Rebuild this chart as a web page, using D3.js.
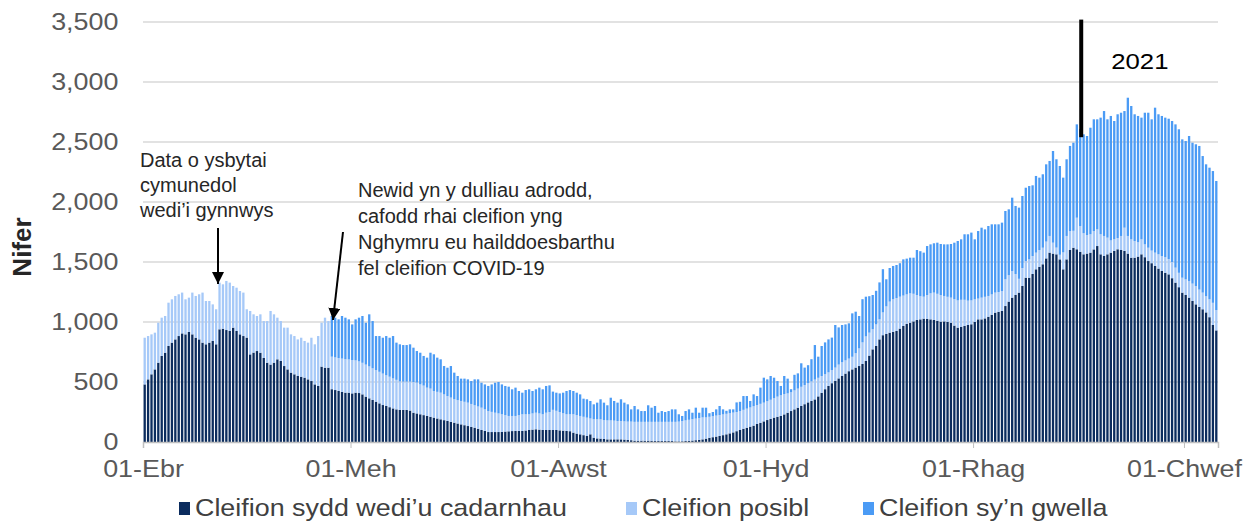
<!DOCTYPE html>
<html lang="cy">
<head>
<meta charset="utf-8">
<title>Cleifion COVID-19</title>
<script src="https://cdn.jsdelivr.net/npm/d3@7"></script>
<style>
  body { margin: 0; background: #fff; overflow: hidden; }
  text { font-family: "Liberation Sans", Arial, sans-serif; }
  .tick text { font-size: 24px; fill: #595959; }
  .grid line { stroke: #d9d9d9; stroke-width: 1.5; }
  .axis-label { font-size: 26px; font-weight: bold; fill: #262626; }
  .legend text { font-size: 24px; fill: #404040; }
  .note { font-size: 20px; fill: #262626; }
</style>
</head>
<body>
<script>
// daily values from 01-Ebr 2020
const startDate = new Date(2020, 3, 1);

const confirmed = [
  480, 522, 564, 605, 661, 717, 744, 800, 828, 855,
  883, 905, 897, 917, 897, 869, 855, 828, 814, 828,
  842, 814, 939, 944, 933, 925, 953, 925, 897, 883,
  870, 730, 745, 758, 744, 700, 661, 645, 661, 689,
  675, 633, 605, 578, 564, 550, 544, 536, 522, 508,
  480, 467, 628, 619, 619, 440, 433, 425, 418, 411,
  411, 405, 411, 408, 397, 378, 364, 350, 336, 322,
  308, 300, 290, 280, 272, 267, 267, 267, 262, 244,
  238, 231, 224, 217, 210, 203, 196, 189, 182, 175,
  168, 161, 154, 147, 140, 133, 126, 119, 110, 100,
  92, 83, 83, 83, 83, 84, 87, 89, 91, 92,
  92, 92, 96, 100, 103, 106, 103, 100, 100, 100,
  100, 100, 97, 95, 92, 90, 78, 70, 64, 57,
  50, 64, 36, 30, 28, 25, 22, 22, 22, 22,
  22, 20, 17, 15, 11, 11, 11, 11, 11, 10,
  8, 8, 8, 8, 8, 8, 5, 5, 6, 8,
  10, 12, 15, 18, 22, 28, 35, 40, 45, 50,
  57, 64, 72, 80, 90, 100, 110, 119, 128, 136,
  150, 160, 172, 183, 193, 203, 210, 217, 230, 244,
  258, 272, 286, 300, 315, 330, 342, 355, 380, 410,
  440, 467, 490, 510, 530, 550, 570, 590, 605, 620,
  633, 650, 675, 720, 772, 800, 855, 890, 900, 911,
  918, 925, 945, 967, 985, 994, 1005, 1017, 1022, 1028,
  1025, 1022, 1017, 1010, 1003, 1005, 1000, 994, 970, 953,
  960, 967, 975, 981, 1000, 1022, 1022, 1030, 1044, 1060,
  1078, 1085, 1092, 1133, 1170, 1203, 1225, 1245, 1300, 1369,
  1369, 1400, 1439, 1460, 1481, 1530, 1578, 1570, 1564, 1522,
  1439, 1522, 1600, 1619, 1606, 1585, 1564, 1570, 1578, 1605,
  1633, 1564, 1550, 1564, 1578, 1592, 1606, 1600, 1592, 1570,
  1536, 1536, 1545, 1564, 1540, 1508, 1490, 1467, 1445, 1425,
  1410, 1397, 1365, 1328, 1290, 1245, 1225, 1203, 1175, 1147,
  1125, 1106, 1080, 1040, 975, 930
];

// confirmed + possible
const possibleTop = [
  869, 883, 897, 911, 994, 1036, 1050, 1161, 1189, 1217,
  1231, 1245, 1189, 1203, 1245, 1217, 1231, 1245, 1175, 1175,
  1147, 1106, 1328, 1314, 1342, 1328, 1300, 1286, 1258, 1245,
  1106, 1092, 1064, 1050, 1064, 1008, 1008, 1092, 1064, 1036,
  1008, 953, 953, 897, 883, 855, 869, 842, 828, 869,
  814, 883, 994, 1036, 1008, 711, 705, 700, 695, 690,
  688, 683, 680, 672, 660, 645, 630, 614, 600, 585,
  570, 556, 544, 530, 518, 505, 503, 503, 503, 500,
  495, 480, 470, 453, 445, 425, 418, 411, 397, 383,
  370, 356, 349, 342, 335, 328, 317, 306, 296, 286,
  272, 258, 251, 244, 238, 231, 224, 217, 217, 217,
  224, 231, 231, 231, 238, 244, 238, 231, 244, 250,
  268, 260, 250, 240, 231, 231, 231, 224, 217, 210,
  203, 196, 189, 189, 189, 182, 180, 180, 178, 175,
  175, 172, 170, 170, 168, 168, 168, 168, 168, 168,
  168, 168, 168, 168, 168, 168, 168, 170, 175, 180,
  185, 190, 195, 200, 205, 205, 210, 215, 220, 225,
  230, 235, 240, 245, 250, 258, 268, 278, 288, 298,
  308, 318, 328, 340, 352, 365, 378, 390, 400, 405,
  415, 430, 445, 460, 475, 490, 505, 520, 535, 550,
  565, 580, 600, 620, 645, 665, 680, 695, 710, 740,
  780, 830, 880, 911, 940, 980, 1022, 1080, 1130, 1170,
  1190, 1200, 1211, 1220, 1230, 1239, 1235, 1225, 1215, 1211,
  1225, 1239, 1245, 1235, 1225, 1217, 1210, 1203, 1190, 1180,
  1185, 1185, 1178, 1180, 1189, 1195, 1203, 1210, 1217, 1230,
  1245, 1250, 1258, 1356, 1390, 1425, 1400, 1360, 1450, 1508,
  1522, 1550, 1578, 1600, 1619, 1670, 1717, 1661, 1620, 1560,
  1580, 1717, 1758, 1760, 1869, 1800, 1740, 1725, 1731, 1758,
  1772, 1731, 1717, 1703, 1680, 1689, 1700, 1717, 1786, 1717,
  1689, 1675, 1665, 1689, 1647, 1619, 1595, 1578, 1564, 1550,
  1540, 1525, 1500, 1453, 1410, 1369, 1355, 1342, 1320, 1300,
  1270, 1245, 1215, 1189, 1160, 1100
];

// confirmed + possible + recovering (recovering reported from day 55 on)
const recoveringStart = 55;
const recoveringTop = [
  1050, 1036, 1022, 1050, 1036,
  1022, 980, 1022, 1036, 1050, 994, 1064, 1008, 883, 883,
  869, 883, 869, 883, 828, 814, 808, 808, 814, 786,
  758, 744, 717, 703, 744, 731, 703, 689, 633, 619,
  633, 578, 550, 528, 528, 522, 508, 522, 522, 494,
  480, 467, 480, 494, 500, 480, 467, 461, 439, 453,
  425, 411, 433, 439, 425, 439, 453, 439, 467, 472,
  420, 411, 405, 411, 425, 433, 425, 411, 397, 361,
  356, 342, 314, 328, 356, 328, 306, 369, 342, 328,
  356, 328, 314, 272, 300, 272, 258, 258, 306, 286,
  300, 244, 258, 250, 258, 272, 272, 231, 217, 258,
  272, 244, 286, 244, 286, 286, 240, 250, 272, 300,
  272, 260, 272, 272, 330, 335, 383, 383, 342, 397,
  383, 453, 536, 522, 550, 536, 508, 467, 550, 528,
  440, 560, 572, 656, 620, 640, 690, 808, 711, 800,
  830, 855, 870, 975, 955, 975, 980, 989, 1072, 1086,
  1050, 1190, 1211, 1215, 1225, 1260, 1330, 1440, 1356, 1450,
  1467, 1475, 1490, 1522, 1528, 1536, 1536, 1600, 1590, 1578,
  1633, 1647, 1656, 1661, 1650, 1647, 1647, 1650, 1661, 1675,
  1689, 1731, 1731, 1745, 1689, 1758, 1786, 1772, 1800, 1814,
  1814, 1814, 1828, 1925, 1939, 2036, 1967, 1953, 2050, 2119,
  2133, 2139, 2217, 2203, 2231, 2314, 2342, 2425, 2356, 2300,
  2203, 2356, 2467, 2494, 2647, 2608, 2564, 2550, 2619, 2689,
  2689, 2703, 2758, 2689, 2717, 2675, 2731, 2744, 2758, 2869,
  2800, 2731, 2717, 2703, 2744, 2744, 2689, 2786, 2731, 2717,
  2703, 2694, 2675, 2647, 2606, 2522, 2508, 2550, 2494, 2481,
  2467, 2383, 2314, 2286, 2258, 2175
];

const seriesKeys = ['confirmed', 'possible', 'recovering'];
const seriesNames = ['Cleifion sydd wedi\u2019u cadarnhau', 'Cleifion posibl', 'Cleifion sy\u2019n gwella'];
const seriesColors = ['#0b2c5e', '#a6c9f8', '#4b9bf5'];

const tickDates = [new Date(2020, 3, 1), new Date(2020, 5, 1), new Date(2020, 7, 1),
                   new Date(2020, 9, 1), new Date(2020, 11, 1), new Date(2021, 1, 1)];
const tickLabels = ['01-Ebr', '01-Meh', '01-Awst', '01-Hyd', '01-Rhag', '01-Chwef'];
const yTicks = [0, 500, 1000, 1500, 2000, 2500, 3000, 3500];

const note1 = ['Data o ysbytai', 'cymunedol', 'wedi\u2019i gynnwys'];
const note2 = ['Newid yn y dulliau adrodd,', 'cafodd rhai cleifion yng', 'Nghymru eu hailddoesbarthu', 'fel cleifion COVID-19'];
const yearLabel = '2021';

const width = 1255, height = 522;
const plot = { left: 143, right: 1218, top: 22, bottom: 442 };
const stretch = 1.12;   // the source text is drawn a little wide

const rows = confirmed.map((c, i) => ({
  date: d3.timeDay.offset(startDate, i),
  confirmed: c,
  possible: possibleTop[i] - c,
  recovering: i < recoveringStart ? 0 : recoveringTop[i - recoveringStart] - possibleTop[i]
}));

const x = d3.scaleTime()
  .domain([startDate, d3.timeDay.offset(startDate, rows.length)])
  .range([plot.left, plot.right]);
const y = d3.scaleLinear().domain([0, 3500]).range([plot.bottom, plot.top]);
const step = x(d3.timeDay.offset(startDate, 1)) - x(startDate);

const svg = d3.select('body').append('svg')
  .attr('width', width)
  .attr('height', height);

// gridlines
svg.append('g')
  .attr('class', 'grid')
  .selectAll('line')
  .data(yTicks.slice(1))
  .join('line')
  .attr('x1', plot.left).attr('x2', plot.right)
  .attr('y1', d => y(d)).attr('y2', d => y(d));

// stacked bars
const stacked = d3.stack().keys(seriesKeys)(rows);
svg.append('g')
  .selectAll('g')
  .data(stacked)
  .join('g')
  .attr('fill', (d, i) => seriesColors[i])
  .selectAll('rect')
  .data(d => d)
  .join('rect')
  .attr('x', d => x(d.data.date) + step * 0.16)
  .attr('width', step * 0.68)
  .attr('y', d => y(d[1]))
  .attr('height', d => Math.max(0, y(d[0]) - y(d[1])));

// y axis
const yAxisG = svg.append('g')
  .attr('transform', `translate(${plot.left},0)`)
  .call(d3.axisLeft(y).tickValues(yTicks).tickFormat(d3.format(',')).tickSize(0).tickPadding(22));
yAxisG.select('.domain').remove();
yAxisG.selectAll('.tick text')
  .attr('font-family', null).attr('font-size', null)
  .attr('transform', `scale(${stretch},1)`);

svg.append('text')
  .attr('class', 'axis-label')
  .attr('transform', `translate(31,${(plot.top + plot.bottom) / 2 + 15}) rotate(-90)`)
  .attr('text-anchor', 'middle')
  .text('Nifer');

// x axis
const xAxisG = svg.append('g')
  .attr('transform', `translate(0,${plot.bottom})`)
  .call(d3.axisBottom(x).tickValues(tickDates)
    .tickFormat((d, i) => tickLabels[i]).tickSize(6).tickPadding(12));
xAxisG.select('.domain').attr('stroke', '#bfbfbf').attr('stroke-width', 1.5);
xAxisG.selectAll('.tick line').attr('stroke', '#bfbfbf');
xAxisG.selectAll('.tick text')
  .attr('font-family', null).attr('font-size', null)
  .attr('transform', `scale(${stretch},1)`);

// Jan 2021 marker
const janX = x(new Date(2021, 0, 1)) + step / 2 + 1;
svg.append('line')
  .attr('x1', janX).attr('x2', janX)
  .attr('y1', y(3520)).attr('y2', y(2540))
  .attr('stroke', '#000').attr('stroke-width', 4);
svg.append('text')
  .attr('transform', `translate(${janX + 30},69) scale(${stretch},1)`)
  .attr('font-size', 23).attr('fill', '#000')
  .text(yearLabel);

// arrows and notes
svg.append('defs').append('marker')
  .attr('id', 'head')
  .attr('viewBox', '0 0 10 10')
  .attr('refX', 10).attr('refY', 5)
  .attr('markerWidth', 6).attr('markerHeight', 6)
  .attr('orient', 'auto')
  .append('path')
  .attr('d', 'M0,0L10,5L0,10z')
  .attr('fill', '#000');

svg.append('g').attr('class', 'note')
  .selectAll('text')
  .data(note1)
  .join('text')
  .attr('x', 140).attr('y', (d, i) => 167 + i * 25)
  .text(d => d);

svg.append('g').attr('class', 'note')
  .selectAll('text')
  .data(note2)
  .join('text')
  .attr('x', 358).attr('y', (d, i) => 197 + i * 26)
  .text(d => d);

const arrows = [
  { x1: 218, y1: 228, x2: 218, y2: 284 },
  { x1: 343, y1: 232, x2: 333, y2: 320 }
];
svg.append('g')
  .selectAll('line')
  .data(arrows)
  .join('line')
  .attr('x1', d => d.x1).attr('y1', d => d.y1)
  .attr('x2', d => d.x2).attr('y2', d => d.y2)
  .attr('stroke', '#000').attr('stroke-width', 2)
  .attr('marker-end', 'url(#head)');

// legend
const legendX = [179, 626, 863];
const legend = svg.append('g').attr('class', 'legend')
  .selectAll('g')
  .data(seriesNames)
  .join('g')
  .attr('transform', (d, i) => `translate(${legendX[i]},508)`);
legend.append('rect')
  .attr('x', 0).attr('y', -6).attr('width', 11).attr('height', 13)
  .attr('fill', (d, i) => seriesColors[i]);
legend.append('text')
  .attr('transform', `translate(16,8) scale(${stretch},1)`)
  .text(d => d);
</script>
</body>
</html>
